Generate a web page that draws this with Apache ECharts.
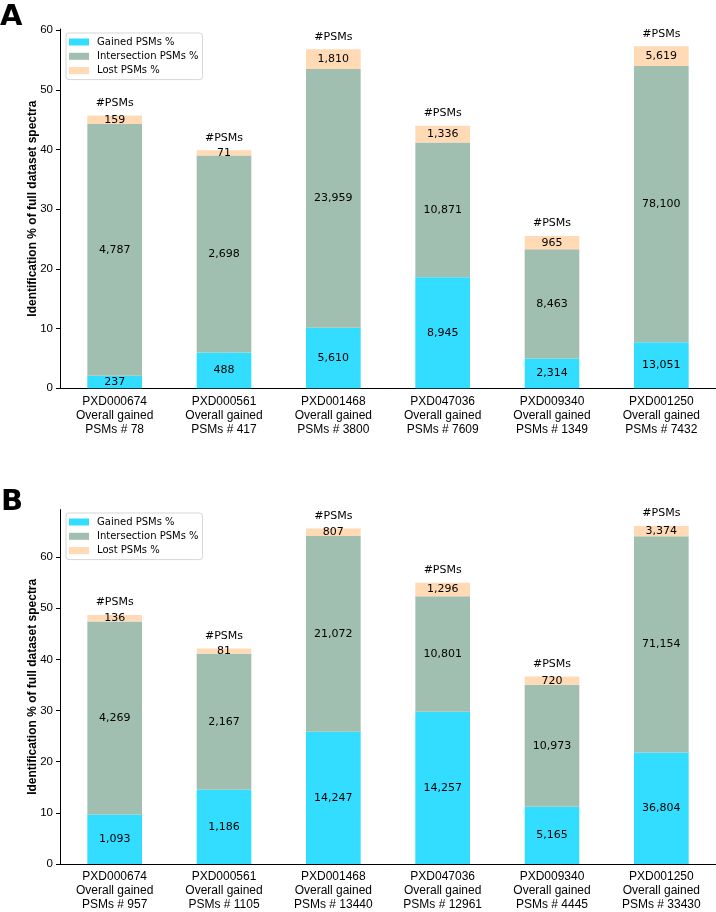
<!DOCTYPE html>
<html>
<head>
<meta charset="utf-8">
<script src="https://cdn.jsdelivr.net/npm/echarts@6/dist/echarts.min.js"></script>
<style>
  html, body { margin: 0; padding: 0; background: #fff; }
  #chart { width: 716px; height: 912px; }
</style>
</head>
<body>
<div id="chart"></div>
<script>
// datasets (same order in both panels)
var datasets = ['PXD000674', 'PXD000561', 'PXD001468', 'PXD047036', 'PXD009340', 'PXD001250']
var yTicks = [0, 10, 20, 30, 40, 50, 60]

// panel A
var overallGainedA = [78, 417, 3800, 7609, 1349, 7432]
var gainedPctA = [2.1, 6.0, 10.15, 18.6, 5.0, 7.7]
var intersectionPctA = [42.2, 33.0, 43.35, 22.6, 18.3, 46.3]
var lostPctA = [1.4, 0.9, 3.3, 2.8, 2.2, 3.3]
var gainedCountA = [237, 488, 5610, 8945, 2314, 13051]
var intersectionCountA = [4787, 2698, 23959, 10871, 8463, 78100]
var lostCountA = [159, 71, 1810, 1336, 965, 5619]

// panel B
var overallGainedB = [957, 1105, 13440, 12961, 4445, 33430]
var gainedPctB = [9.67, 14.5, 25.85, 29.75, 11.2, 21.8]
var intersectionPctB = [37.75, 26.6, 38.3, 22.6, 23.85, 42.3]
var lostPctB = [1.25, 1.05, 1.45, 2.65, 1.6, 2.0]
var gainedCountB = [1093, 1186, 14247, 14257, 5165, 36804]
var intersectionCountB = [4269, 2167, 21072, 10801, 10973, 71154]
var lostCountB = [136, 81, 807, 1296, 720, 3374]

var colors = ['#33DDFF', '#A0BFB0', '#FFDAB4']
var names = ['Gained PSMs %', 'Intersection PSMs %', 'Lost PSMs %']

function fmt (n) {
  return String(n).replace(/\B(?=(\d{3})+(?!\d))/g, ',')
}

function categories (gained) {
  return datasets.map(function (d, i) {
    return d + '\nOverall gained\nPSMs # ' + gained[i]
  })
}

function xAxis (idx, gained) {
  return {
    type: 'category',
    gridIndex: idx,
    data: categories(gained),
    axisLine: { lineStyle: { color: '#000', width: 1 } },
    axisTick: { alignWithLabel: true, length: 4, lineStyle: { color: '#000' } },
    axisLabel: {
      interval: 0, margin: 6, color: '#000',
      fontFamily: 'Liberation Sans', fontSize: 12, lineHeight: 14
    }
  }
}

function yAxis (idx, max) {
  return {
    type: 'value',
    gridIndex: idx,
    min: 0,
    max: max,
    name: 'Identification % of full dataset spectra',
    nameLocation: 'middle',
    nameGap: 21,
    nameMoveOverlap: false,
    nameTextStyle: { fontFamily: 'Liberation Sans', fontWeight: 'bold', fontSize: 12, color: '#000' },
    axisLine: { show: true, lineStyle: { color: '#000', width: 1 } },
    axisTick: { show: true, length: 4, customValues: yTicks, lineStyle: { color: '#000' } },
    axisLabel: { customValues: yTicks, margin: 7, color: '#000', fontFamily: 'Liberation Sans', fontSize: 11.5 },
    splitLine: { show: false }
  }
}

function labelOf (counts) {
  return {
    show: true,
    position: 'inside',
    color: '#000',
    fontFamily: 'DejaVu Sans',
    fontSize: 11,
    formatter: function (p) { return fmt(counts[p.dataIndex]) }
  }
}

function panelSeries (idx, gained, inter, lost, gc, ic, lc) {
  var stack = 'p' + idx
  var base = { type: 'bar', stack: stack, xAxisIndex: idx, yAxisIndex: idx, barWidth: '50%' }
  return [
    Object.assign({}, base, { name: names[0], data: gained, itemStyle: { color: colors[0] }, label: labelOf(gc) }),
    Object.assign({}, base, { name: names[1], data: inter, itemStyle: { color: colors[1] }, label: labelOf(ic) }),
    Object.assign({}, base, { name: names[2], data: lost, itemStyle: { color: colors[2] }, label: labelOf(lc) }),
    // zero-height cap carrying the "#PSMs" heading
    Object.assign({}, base, {
      name: 'cap',
      data: datasets.map(function () { return 0 }),
      silent: true,
      itemStyle: { color: 'transparent' },
      label: {
        show: true, position: 'top', distance: 7, color: '#000',
        fontFamily: 'DejaVu Sans', fontSize: 11,
        formatter: '#PSMs'
      }
    })
  ]
}

function legend (top) {
  return {
    data: names,
    orient: 'vertical',
    left: 66,
    top: top,
    icon: 'rect',
    itemWidth: 20,
    itemHeight: 7,
    itemGap: 2.3,
    padding: [3, 4, 3, 3],
    borderColor: '#d6d6d6',
    borderWidth: 1,
    borderRadius: 3,
    backgroundColor: 'rgba(255,255,255,0.8)',
    selectedMode: false,
    textStyle: { fontFamily: 'DejaVu Sans', fontSize: 10, lineHeight: 12, color: '#000', padding: [0, 0, 0, 3] }
  }
}

var chart = echarts.init(document.getElementById('chart'))
chart.setOption({
  animation: false,
  backgroundColor: '#fff',
  grid: [
    { left: 60, right: 0, top: 29, height: 359.3 },
    { left: 60, right: 0, top: 509.6, height: 361.1 }
  ],
  xAxis: [xAxis(0, overallGainedA), xAxis(1, overallGainedB)],
  yAxis: [yAxis(0, 60.2), yAxis(1, 69.3)],
  legend: [legend(33), legend(513)],
  graphic: [
    { type: 'text', left: 0, top: 3, style: { text: 'A', fontFamily: 'DejaVu Sans', fontWeight: 'bold', fontSize: 29, fill: '#000' } },
    { type: 'text', left: 1, top: 488, style: { text: 'B', fontFamily: 'DejaVu Sans', fontWeight: 'bold', fontSize: 29, fill: '#000' } }
  ],
  series: panelSeries(0, gainedPctA, intersectionPctA, lostPctA, gainedCountA, intersectionCountA, lostCountA)
    .concat(panelSeries(1, gainedPctB, intersectionPctB, lostPctB, gainedCountB, intersectionCountB, lostCountB))
})
</script>
</body>
</html>
